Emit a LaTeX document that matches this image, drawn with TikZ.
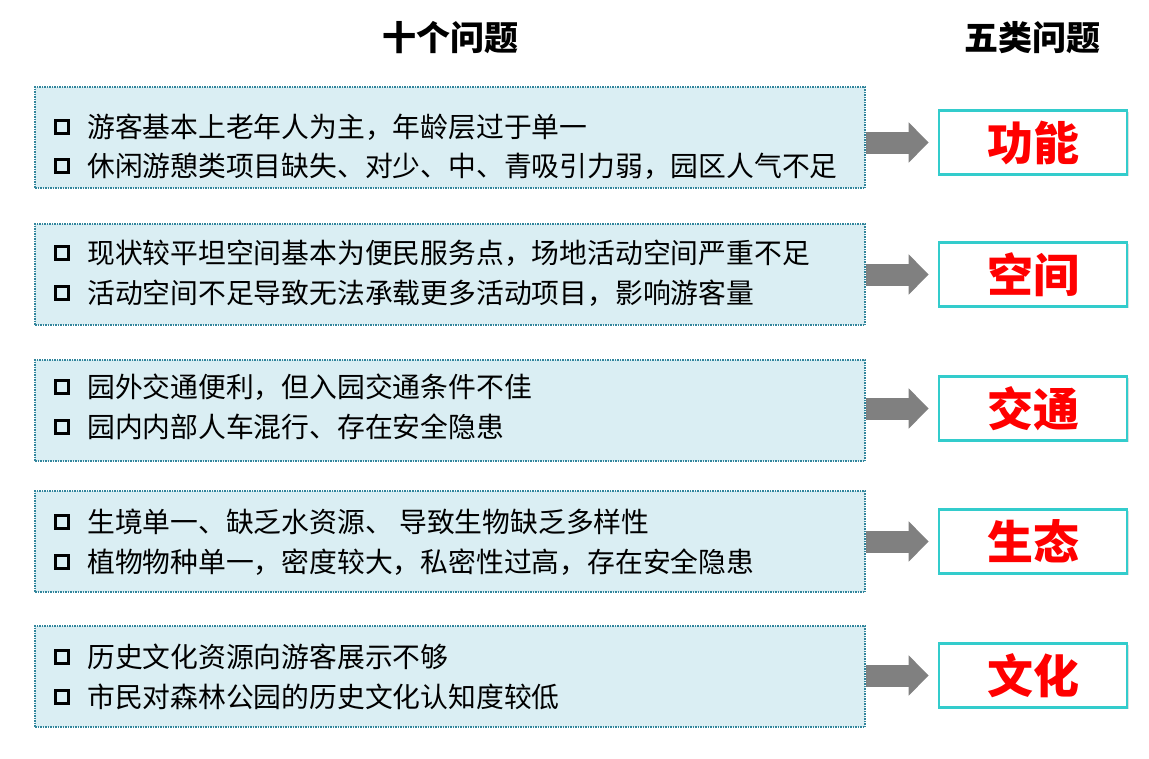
\documentclass[tikz,border=0pt]{standalone}
\usepackage{fontspec}
\usepackage{tikz}
\usetikzlibrary{arrows.meta,shadows}
\newfontfamily\cjk{Noto Sans CJK SC}
\definecolor{prob-fill}{RGB}{218,238,243}
\definecolor{prob-line}{RGB}{49,133,156}
\definecolor{cat-line}{RGB}{51,204,204}
\definecolor{arrow-gray}{RGB}{128,128,128}

\begin{document}
\begin{tikzpicture}[x=1pt, y=-1pt, font=\cjk,
            probbox/.style={draw=prob-line, densely dotted, line width=1.5pt,
                            fill=prob-fill, minimum width=830pt, minimum height=101pt},
            catbox/.style={draw=cat-line, line width=2.6pt, fill=white,
                           minimum width=188pt, minimum height=64pt,
                           drop shadow={opacity=0.25, shadow xshift=1.5pt, shadow yshift=-1.5pt},
                           font=\cjk\fontsize{46}{50}\selectfont\bfseries, text=red},
            bullet/.style={draw=black, line width=3.8pt, minimum size=13pt, inner sep=0pt},
            item/.style={anchor=west, inner sep=0pt, font=\cjk\fontsize{27.8}{30}\selectfont},
            head/.style={font=\cjk\fontsize{34}{38}\selectfont\bfseries},
            link/.style={-{Triangle[length=20pt, width=39pt]}, line width=22pt,
                         arrow-gray, shorten >=9pt}]
  \useasboundingbox (0,0) rectangle (1149,758);

  \node[head] (h1) at (450,38)  {十个问题};
  \node[head] (h2) at (1032,38) {五类问题};

  % problem boxes
  \node[probbox] (p1) at (450,137.5) {};
  \node[probbox] (p2) at (450,274.5) {};
  \node[probbox] (p3) at (450,410.5) {};
  \node[probbox] (p4) at (450,541.5) {};
  \node[probbox] (p5) at (450,676.5) {};

  \node[bullet] (b11) at (62,127) {};
  \node[item]   (t11) at (87,127) {游客基本上老年人为主，年龄层过于单一};
  \node[bullet] (b12) at (62,166) {};
  \node[item]   (t12) at (87,166) {休闲游憩类项目缺失、对少、中、青吸引力弱，园区人气不足};

  \node[bullet] (b21) at (62,253) {};
  \node[item]   (t21) at (87,253) {现状较平坦空间基本为便民服务点，场地活动空间严重不足};
  \node[bullet] (b22) at (62,293) {};
  \node[item]   (t22) at (87,293) {活动空间不足导致无法承载更多活动项目，影响游客量};

  \node[bullet] (b31) at (62,387) {};
  \node[item]   (t31) at (87,387) {园外交通便利，但入园交通条件不佳};
  \node[bullet] (b32) at (62,427) {};
  \node[item]   (t32) at (87,427) {园内内部人车混行、存在安全隐患};

  \node[bullet] (b41) at (62,522) {};
  \node[item]   (t41) at (87,522) {生境单一、缺乏水资源、 导致生物缺乏多样性};
  \node[bullet] (b42) at (62,562) {};
  \node[item]   (t42) at (87,562) {植物物种单一，密度较大，私密性过高，存在安全隐患};

  \node[bullet] (b51) at (62,657) {};
  \node[item]   (t51) at (87,657) {历史文化资源向游客展示不够};
  \node[bullet] (b52) at (62,697) {};
  \node[item]   (t52) at (87,697) {市民对森林公园的历史文化认知度较低};

  % categories
  \node[catbox] (c1) at (1033,142.5) {功能};
  \node[catbox] (c2) at (1033,274.5) {空间};
  \node[catbox] (c3) at (1033,408.5) {交通};
  \node[catbox] (c4) at (1033,541.5) {生态};
  \node[catbox] (c5) at (1033,675.5) {文化};

  \draw[link] (p1.east |- c1.west) -- (c1.west);
  \draw[link] (p2.east |- c2.west) -- (c2.west);
  \draw[link] (p3.east |- c3.west) -- (c3.west);
  \draw[link] (p4.east |- c4.west) -- (c4.west);
  \draw[link] (p5.east |- c5.west) -- (c5.west);
\end{tikzpicture}
\end{document}
